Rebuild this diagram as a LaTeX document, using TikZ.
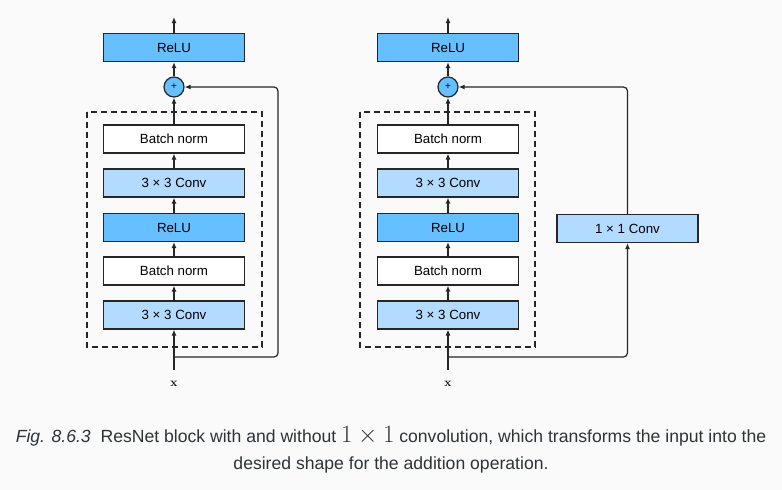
\documentclass[tikz,border=0pt]{standalone}
\usepackage{amsmath}
\usepackage{fontspec}
\setmainfont{Latin Modern Roman}
\newfontfamily\boxfont{Liberation Sans}
\usetikzlibrary{arrows.meta}
\definecolor{bgcol}{HTML}{FAFAFA}
\definecolor{reluc}{HTML}{66BFFF}
\definecolor{convc}{HTML}{B3DAFF}
\definecolor{capc}{HTML}{2E3338}

\begin{document}
\begin{tikzpicture}[x=1pt,y=-1pt]
    \tikzset{
    blk/.style={draw=black!85, line width=1.2pt, minimum width=141pt, minimum height=28pt, inner sep=0pt, font=\boxfont\fontsize{13.3}{15}\selectfont},
    relu/.style={blk, fill=reluc},
    conv/.style={blk, fill=convc},
    bn/.style={blk, fill=white},
    plus/.style={circle, draw=black!85, line width=1.2pt, fill=reluc, minimum size=20pt, inner sep=0pt, font=\boxfont\fontsize{10}{10}\selectfont},
    arr/.style={-{Latex[length=6pt,width=5pt]}, line width=1.2pt, black!85},
    dbox/.style={draw=black!85, line width=1.2pt, dash pattern=on 6pt off 4pt},
    }
    \fill[bgcol] (0,0) rectangle (782,490);
    \useasboundingbox (0,0) rectangle (782,490);

    % left block
    \draw[dbox] (87,112) rectangle (262,347);
    \node[relu] (top1) at (174,47.5) {ReLU};
    \node[plus] (plus1) at (174,87) {+};
    \node[bn] (bnb1) at (174,139) {Batch norm};
    \node[conv] (cvb1) at (174,183) {3 × 3 Conv};
    \node[relu] (rl1) at (174,227.5) {ReLU};
    \node[bn] (bna1) at (174,271) {Batch norm};
    \node[conv] (cva1) at (174,315) {3 × 3 Conv};
    \node[font=\bfseries\fontsize{12}{12}\selectfont] (xa) at (174,384) {x};
    \coordinate (in1) at (174,370);
    \coordinate (br1) at (174,357);
    \coordinate (cr1) at (278,87);
    \coordinate (out1) at (174,17);

    \draw[arr] (in1) -- (cva1);
    \draw[arr] (cva1) -- (bna1);
    \draw[arr] (bna1) -- (rl1);
    \draw[arr] (rl1) -- (cvb1);
    \draw[arr] (cvb1) -- (bnb1);
    \draw[arr] (bnb1) -- (plus1);
    \draw[arr] (plus1) -- (top1);
    \draw[arr] (top1) -- (out1);
    \draw[arr, rounded corners=4pt] (br1) -| (cr1) -- (plus1);

    % right block
    \draw[dbox] (360,112) rectangle (535,347);
    \node[relu] (top2) at (448,47.5) {ReLU};
    \node[plus] (plus2) at (448,87) {+};
    \node[bn] (bnb2) at (448,139) {Batch norm};
    \node[conv] (cvb2) at (448,183) {3 × 3 Conv};
    \node[relu] (rl2) at (448,227.5) {ReLU};
    \node[bn] (bna2) at (448,271) {Batch norm};
    \node[conv] (cva2) at (448,315) {3 × 3 Conv};
    \node[conv] (cv11) at (627.5,228.5) {1 × 1 Conv};
    \node[font=\bfseries\fontsize{12}{12}\selectfont] (xb) at (448,384) {x};
    \coordinate (in2) at (448,370);
    \coordinate (br2) at (448,357);
    \coordinate (out2) at (448,17);

    \draw[arr] (in2) -- (cva2);
    \draw[arr] (cva2) -- (bna2);
    \draw[arr] (bna2) -- (rl2);
    \draw[arr] (rl2) -- (cvb2);
    \draw[arr] (cvb2) -- (bnb2);
    \draw[arr] (bnb2) -- (plus2);
    \draw[arr] (plus2) -- (top2);
    \draw[arr] (top2) -- (out2);
    \draw[arr, rounded corners=4pt] (br2) -| (cv11);
    \draw[arr, rounded corners=4pt] (cv11) |- (plus2);

    % caption
    \node[text=capc, font=\boxfont\fontsize{17.6}{27}\selectfont, align=center] (cap) at (391,450)
      {{\itshape Fig. 8.6.3}\ \ ResNet block with and without {\fontsize{24}{24}\selectfont$1\times1$} convolution, which transforms the input into the\\
       desired shape for the addition operation.};
\end{tikzpicture}
\end{document}
